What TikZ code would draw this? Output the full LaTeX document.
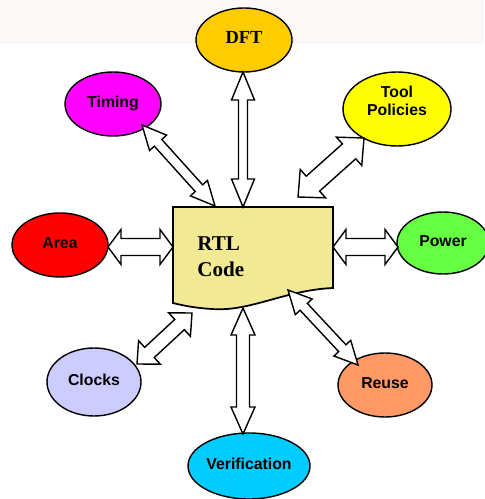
\documentclass[tikz,border=0pt]{standalone}
\usepackage{fontspec}
\setmainfont{Liberation Serif}
\setsansfont{Liberation Sans}
\usetikzlibrary{calc,shapes.geometric}
\definecolor{bandgray}{HTML}{FCF8F8}
\definecolor{rtlfill}{HTML}{F2E994}
\definecolor{dftfill}{HTML}{FFCC00}
\definecolor{timingfill}{HTML}{FF00FF}
\definecolor{toolfill}{HTML}{FFFF00}
\definecolor{areafill}{HTML}{FF0000}
\definecolor{powerfill}{HTML}{66FF44}
\definecolor{clocksfill}{HTML}{CCCCFF}
\definecolor{reusefill}{HTML}{FF9966}
\definecolor{veriffill}{HTML}{00CCFF}
\tikzset{
 rtl goal/.style={ellipse,draw=black,line width=.8pt,inner sep=0pt,align=center,
                  font=\sffamily\bfseries\fontsize{9}{10.5}\selectfont},
 rtl one line/.style={text height=7pt,text depth=3pt},
 rtl goal size/.style 2 args={minimum width=#1*0.02cm,minimum height=#2*0.02cm},
 rtl body/.style={draw=black,line width=1pt,fill=rtlfill,line join=miter},
 rtl arrow/.style={draw=black,line width=.8pt,fill=white,line join=miter},
 rtl label/.style={font=\bfseries\fontsize{12}{14.7}\selectfont,align=left,
                   inner sep=0pt}
}
% double block arrow: tip, tip, half shaft, half head, head length (px)
\newcommand{\rtlarrow}[5]{%
 \draw[rtl arrow] (#1)
  -- ($(#1)!#5*0.02cm!(#2)!#4*0.02cm!90:(#2)$)
  -- ($(#1)!#5*0.02cm!(#2)!#3*0.02cm!90:(#2)$)
  -- ($(#2)!#5*0.02cm!(#1)!#3*0.02cm!-90:(#1)$)
  -- ($(#2)!#5*0.02cm!(#1)!#4*0.02cm!-90:(#1)$)
  -- (#2)
  -- ($(#2)!#5*0.02cm!(#1)!#4*0.02cm!90:(#1)$)
  -- ($(#2)!#5*0.02cm!(#1)!#3*0.02cm!90:(#1)$)
  -- ($(#1)!#5*0.02cm!(#2)!#3*0.02cm!-90:(#2)$)
  -- ($(#1)!#5*0.02cm!(#2)!#4*0.02cm!-90:(#2)$)
  -- cycle;}

\begin{document}
\begin{tikzpicture}[x=0.02cm,y=-0.02cm]
 \useasboundingbox (0,0) rectangle (484,499);
 \fill[bandgray] (0,0) rectangle (484,44);
 % code block
 \draw[rtl body] (173,207) -- (333,207) -- (333,288)
   .. controls (285,290) and (250,312) .. (212,309)
   .. controls (196,308) and (185,306) .. (173,303) -- cycle;
 \node[rtl label,anchor=west] (rtl) at (197,257) {RTL\\Code};
 % goals round the block
 \node[rtl goal,rtl one line,rtl goal size={96}{64},fill=dftfill,
       font=\bfseries\fontsize{10.5}{12}\selectfont] (dft) at (244,40) {DFT};
 \node[rtl goal,rtl goal size={108}{74},fill=toolfill,text height=17.5pt,
       text depth=10pt] (tool) at (397,109) {Tool\\Policies};
 \foreach \n/\x/\y/\w/\h/\c/\t in {timing/113/104/96/64/timingfill/Timing,
     area/60/245/96/64/areafill/Area,power/443/243/92/62/powerfill/Power,
     clocks/94/382/94/68/clocksfill/Clocks,reuse/385/385/94/64/reusefill/Reuse,
     verif/249/466/122/66/veriffill/Verification}{
   \node[rtl goal,rtl one line,rtl goal size={\w}{\h},fill=\c] (\n) at (\x,\y) {\t};
 }
 % arrow ends
 \coordinate (dft-s) at (243,72);    \coordinate (rtl-n) at (243,207);
 \coordinate (timing-se) at (142,125); \coordinate (rtl-nw) at (215,206);
 \coordinate (tool-sw) at (364,138); \coordinate (rtl-ne) at (298,197);
 \coordinate (area-e) at (108,247);  \coordinate (rtl-w) at (173,247);
 \coordinate (rtl-e) at (333,247);   \coordinate (power-w) at (398,247);
 \coordinate (rtl-sw) at (192,313);  \coordinate (clocks-ne) at (137,364);
 \coordinate (rtl-s) at (243,308);   \coordinate (verif-n) at (243,434);
 \coordinate (rtl-se) at (288,290);  \coordinate (reuse-nw) at (358,365);
 \foreach \a/\b/\s/\hw/\hl in {dft-s/rtl-n/4.5/11.5/28,timing-se/rtl-nw/5/11.5/24,
     tool-sw/rtl-ne/10/19/20,area-e/rtl-w/8.5/17.5/13,rtl-e/power-w/8.5/17.5/13,
     rtl-sw/clocks-ne/7/16/17,rtl-s/verif-n/6.5/12/27,rtl-se/reuse-nw/5/11.5/23}{
   \rtlarrow{\a}{\b}{\s}{\hw}{\hl}
 }
\end{tikzpicture}
\end{document}
